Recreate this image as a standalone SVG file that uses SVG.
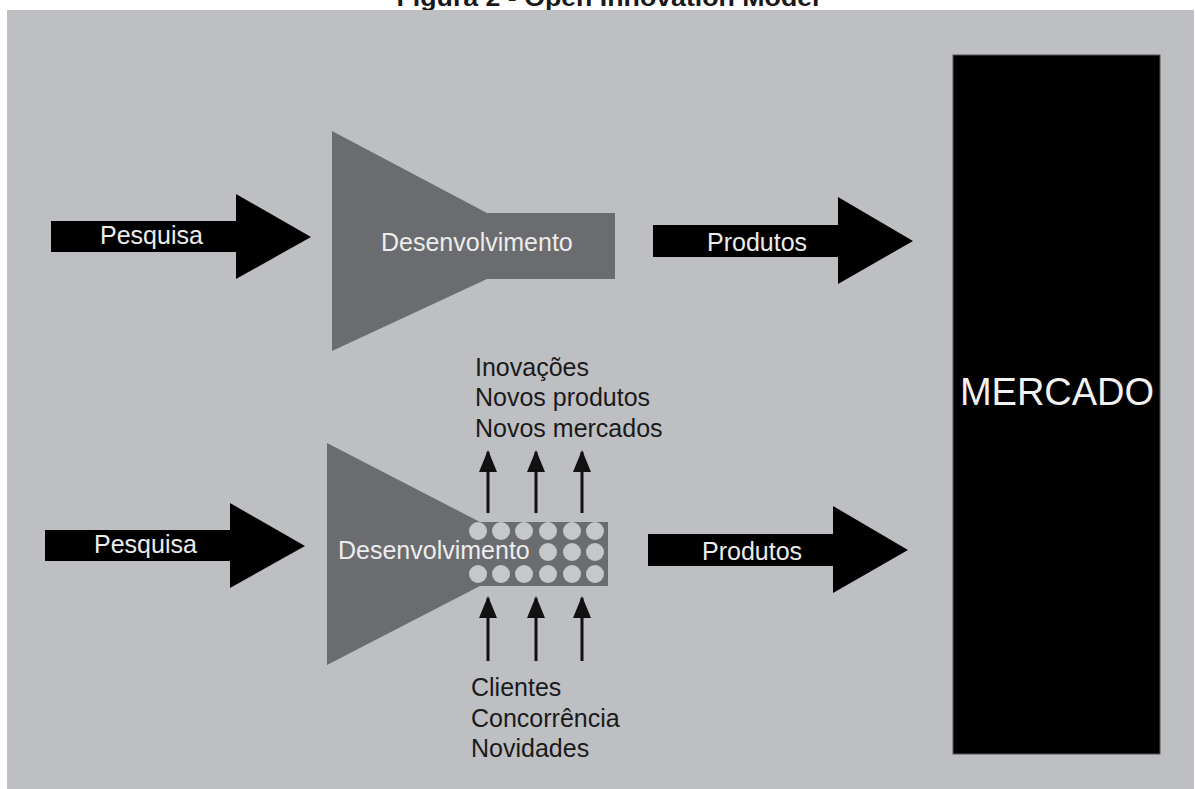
<svg xmlns="http://www.w3.org/2000/svg" width="1195" height="789" viewBox="0 0 1195 789">
  <defs>
    <style>
      .lbl { font-family: "Liberation Sans", Arial, sans-serif; font-size: 25px; }
      .light { fill: #ececec; }
      .dark { fill: #1a1a1a; }
      .block { fill: #000; }
      .funnel { fill: #6b6c70; }
      .dot { fill: #c6c7cb; }
      .up { stroke: #111; stroke-width: 3; fill: none; }
    </style>
    <marker id="head" viewBox="0 0 22 18" refX="20" refY="9" markerWidth="22" markerHeight="18" markerUnits="userSpaceOnUse" orient="auto">
      <path d="M0,0 L22,9 L0,18 Z" fill="#111"/>
    </marker>
  </defs>

  <rect x="0" y="0" width="1195" height="789" fill="#ffffff"/>
  <text x="608" y="6" text-anchor="middle" font-family="'Liberation Sans', Arial, sans-serif" font-size="24" font-weight="bold" fill="#1a1a1a" textLength="423" lengthAdjust="spacingAndGlyphs">Figura 2 - Open Innovation Model</text>
  <rect x="7" y="10" width="1187" height="779" fill="#bebfc3"/>

  <!-- closed model -->
  <g id="pesquisa-top">
    <polygon class="block" points="51,221 236,221 236,194 311,237 236,279 236,252 51,252"/>
    <text class="lbl light" x="100" y="244">Pesquisa</text>
  </g>
  <g id="desenvolvimento-top">
    <polygon class="funnel" points="332,131 487,213 615,213 615,279 487,279 332,351"/>
    <text class="lbl light" x="381" y="251">Desenvolvimento</text>
  </g>
  <g id="produtos-top">
    <polygon class="block" points="653,225 838,225 838,197 913,241 838,284 838,257 653,257"/>
    <text class="lbl light" x="707" y="251">Produtos</text>
  </g>

  <!-- market -->
  <g id="mercado">
    <rect x="953" y="55" width="207" height="699" fill="#000" stroke="#555" stroke-width="1"/>
    <text x="1057" y="405" text-anchor="middle" font-family="'Liberation Sans', Arial, sans-serif" font-size="38" fill="#f2f2f2">MERCADO</text>
  </g>

  <!-- open model -->
  <g id="pesquisa-bottom">
    <polygon class="block" points="45,530 230,530 230,503 305,546 230,588 230,561 45,561"/>
    <text class="lbl light" x="94" y="553">Pesquisa</text>
  </g>
  <g id="desenvolvimento-bottom">
    <polygon class="funnel" points="327,443 480,522 608,522 608,586 480,586 327,665"/>
    <g class="dot">
      <circle cx="478" cy="531" r="9"/><circle cx="501" cy="531" r="9"/><circle cx="524" cy="531" r="9"/>
      <circle cx="548" cy="531" r="9"/><circle cx="572" cy="531" r="9"/><circle cx="595" cy="531" r="9"/>
      <circle cx="548" cy="552" r="9"/><circle cx="572" cy="552" r="9"/><circle cx="595" cy="552" r="9"/>
      <circle cx="478" cy="574" r="9"/><circle cx="501" cy="574" r="9"/><circle cx="524" cy="574" r="9"/>
      <circle cx="548" cy="574" r="9"/><circle cx="572" cy="574" r="9"/><circle cx="595" cy="574" r="9"/>
    </g>
    <text class="lbl light" x="338" y="559">Desenvolvimento</text>
  </g>
  <g id="produtos-bottom">
    <polygon class="block" points="648,534 833,534 833,506 908,550 833,593 833,566 648,566"/>
    <text class="lbl light" x="702" y="560">Produtos</text>
  </g>

  <g id="saidas">
    <text class="lbl dark" x="475" y="376">Inovações</text>
    <text class="lbl dark" x="475" y="406">Novos produtos</text>
    <text class="lbl dark" x="475" y="437">Novos mercados</text>
  </g>
  <g id="entradas">
    <text class="lbl dark" x="471" y="696">Clientes</text>
    <text class="lbl dark" x="471" y="727">Concorrência</text>
    <text class="lbl dark" x="471" y="757">Novidades</text>
  </g>

  <g id="connectors">
    <line class="up" x1="488" y1="513" x2="488" y2="452" marker-end="url(#head)"/>
    <line class="up" x1="536" y1="513" x2="536" y2="452" marker-end="url(#head)"/>
    <line class="up" x1="582" y1="513" x2="582" y2="452" marker-end="url(#head)"/>
    <line class="up" x1="488" y1="661" x2="488" y2="598" marker-end="url(#head)"/>
    <line class="up" x1="536" y1="661" x2="536" y2="598" marker-end="url(#head)"/>
    <line class="up" x1="582" y1="661" x2="582" y2="598" marker-end="url(#head)"/>
  </g>
</svg>
